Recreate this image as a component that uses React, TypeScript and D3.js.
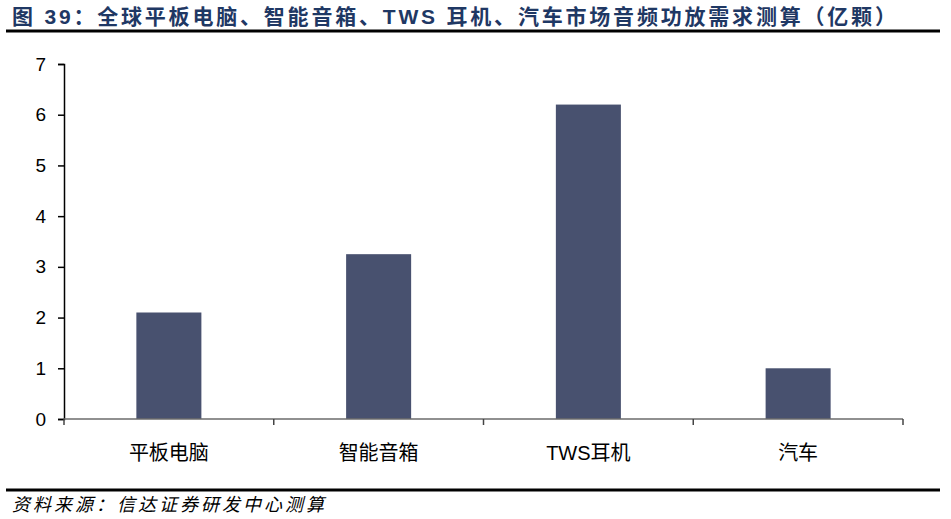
import { useEffect, useRef } from 'react'
import * as d3 from 'd3'

const categories = ['平板电脑', '智能音箱', 'TWS耳机', '汽车']
const values = [2.1, 3.25, 6.2, 1.0]
const yTicks = [0, 1, 2, 3, 4, 5, 6, 7]

const TITLE = '图 39：全球平板电脑、智能音箱、TWS 耳机、汽车市场音频功放需求测算（亿颗）'
const SOURCE = '资料来源：信达证券研发中心测算'

const W = 951
const H = 519
const FONT = 'Arial, "Liberation Sans", "Noto Sans CJK SC", sans-serif'

export default function App() {
  const ref = useRef<SVGSVGElement>(null)

  useEffect(() => {
    if (!ref.current) return
    d3.select(ref.current).selectAll('*').remove()
    render(ref.current)
  }, [])

  return (
    <svg
      ref={ref}
      width={W}
      height={H}
      style={{ display: 'block', position: 'absolute', left: 0, top: 0, background: '#fff' }}
    />
  )
}

function render(el: SVGSVGElement) {
  const svg = d3.select(el).style('font-family', FONT)
  const x0 = 64
  const x1 = 903
  const yTop = 64
  const yBottom = 419

  // Title
  svg.append('text')
    .attr('x', 12)
    .attr('y', 24)
    .attr('font-size', 21)
    .attr('font-weight', 'bold')
    .attr('letter-spacing', 2.8)
    .attr('fill', '#1f3864')
    .attr('font-family', '"Liberation Sans", "Noto Sans CJK SC", sans-serif')
    .text(TITLE)

  svg.append('line')
    .attr('x1', 6).attr('x2', 940)
    .attr('y1', 31).attr('y2', 31)
    .attr('stroke', '#000').attr('stroke-width', 3)

  const x = d3.scaleBand().domain(categories).range([x0, x1]).paddingInner(0).paddingOuter(0)
  const y = d3.scaleLinear().domain([0, 7]).range([yBottom, yTop])

  const g = svg.append('g')

  // Bars
  const bw = x.bandwidth() * 0.31
  g.selectAll('rect.bar')
    .data(categories)
    .join('rect')
    .attr('class', 'bar')
    .attr('x', (d) => x(d)! + x.bandwidth() / 2 - bw / 2)
    .attr('y', (_, i) => y(values[i]))
    .attr('width', bw)
    .attr('height', (_, i) => yBottom - y(values[i]))
    .attr('fill', '#48516f')

  // Y axis
  g.append('g')
    .attr('transform', `translate(${x0},0)`)
    .call(d3.axisLeft(y).tickValues(yTicks).tickSize(6).tickPadding(12).tickFormat(d3.format('d')))
    .call((sel) => sel.select('.domain').attr('stroke', '#000').attr('stroke-width', 1.5))
    .call((sel) => sel.selectAll('line').attr('stroke', '#000').attr('stroke-width', 1.5))
    .call((sel) =>
      sel.selectAll('text')
        .attr('font-size', 19)
        .attr('fill', '#000')
        .attr('font-family', FONT)
    )

  // X axis line + category boundary ticks
  const boundaries = categories.map((c) => x(c)!).concat([x1])
  g.append('line')
    .attr('x1', x0).attr('x2', x1)
    .attr('y1', yBottom).attr('y2', yBottom)
    .attr('stroke', '#6b6b6b').attr('stroke-width', 1.5)
  g.selectAll('line.xtick')
    .data(boundaries)
    .join('line')
    .attr('class', 'xtick')
    .attr('x1', (d) => d).attr('x2', (d) => d)
    .attr('y1', yBottom).attr('y2', yBottom + 6)
    .attr('stroke', '#444').attr('stroke-width', 1.5)

  g.selectAll('text.xlab')
    .data(categories)
    .join('text')
    .attr('class', 'xlab')
    .attr('x', (d) => x(d)! + x.bandwidth() / 2)
    .attr('y', 460)
    .attr('text-anchor', 'middle')
    .attr('font-size', 20)
    .attr('fill', '#000')
    .text((d) => d)

  // Footer
  svg.append('line')
    .attr('x1', 6).attr('x2', 940)
    .attr('y1', 490).attr('y2', 490)
    .attr('stroke', '#000').attr('stroke-width', 3)

  svg.append('text')
    .attr('x', 12)
    .attr('y', 511)
    .attr('font-size', 18)
    .attr('font-style', 'italic')
    .attr('letter-spacing', 3)
    .attr('fill', '#000')
    .attr('font-family', '"Noto Sans CJK SC", sans-serif')
    .text(SOURCE)
}
